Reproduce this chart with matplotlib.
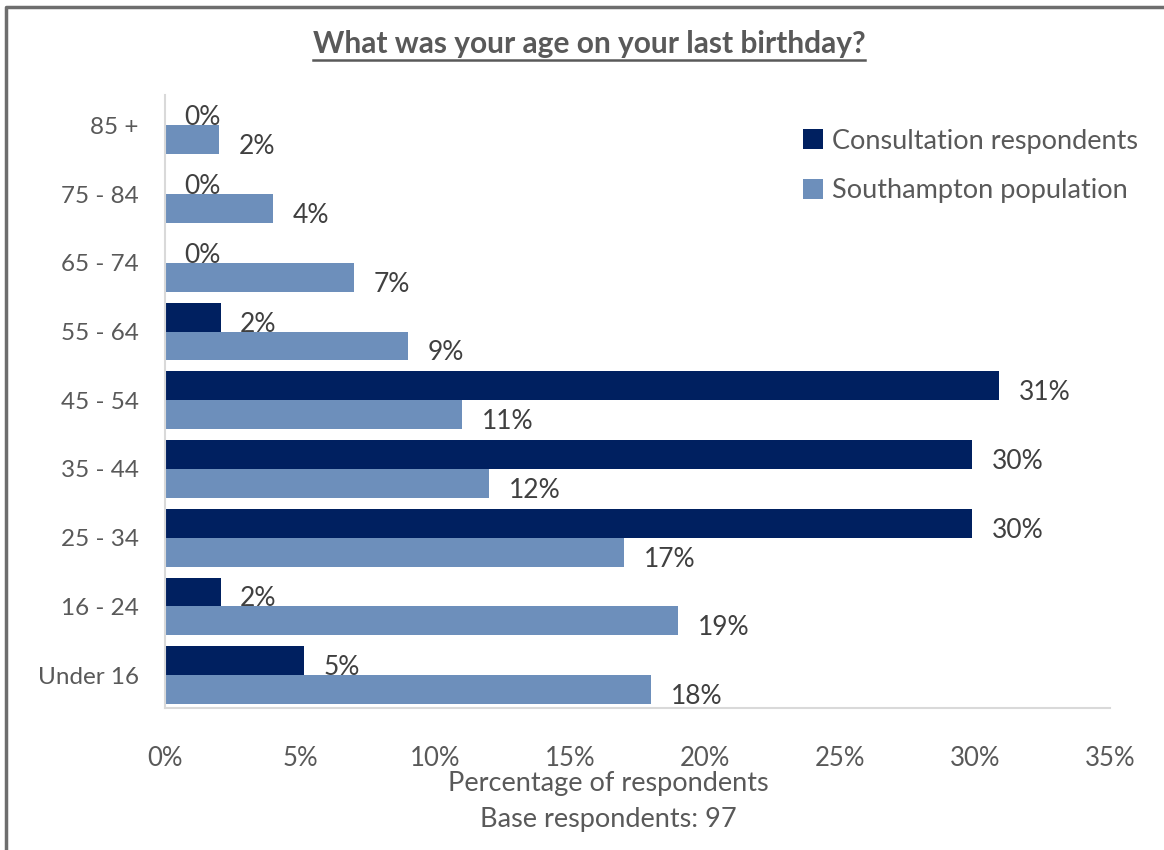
import numpy as np
import matplotlib.pyplot as plt
from matplotlib.lines import Line2D

# 年龄组（从下到上）
age_groups = ["Under 16", "16 - 24", "25 - 34", "35 - 44", "45 - 54",
              "55 - 64", "65 - 74", "75 - 84", "85 +"]
consultation = [5.15, 2.06, 29.9, 29.9, 30.9, 2.06, 0, 0, 0]
population = [18.0, 19.0, 17.0, 12.0, 11.0, 9.0, 7.0, 4.0, 2.0]
x_ticks = [0, 5, 10, 15, 20, 25, 30, 35]

navy = "#002060"
light = "#6d8fbb"
grey = "#595959"

plt.rcParams['font.family'] = ['Lato', 'DejaVu Sans']

fig = plt.figure(figsize=(11.64, 8.5), dpi=100)
ax = fig.add_axes([0.1418, 0.167, 0.8118, 0.721])

y = np.arange(len(age_groups))
h = 0.42
ax.barh(y + h / 2, consultation, height=h, color=navy, label="Consultation respondents")
ax.barh(y - h / 2, population, height=h, color=light, label="Southampton population")

# 数据标签
for yi, v in zip(y, consultation):
    ax.annotate(f"{v:.0f}%", (v, yi + h / 2), xytext=(14, -5), textcoords="offset points",
                va="center", ha="left", fontsize=19, color="#404040")
for yi, v in zip(y, population):
    ax.annotate(f"{v:.0f}%", (v, yi - h / 2), xytext=(14, -5), textcoords="offset points",
                va="center", ha="left", fontsize=19, color="#404040")

ax.set_xlim(0, 35)
ax.set_ylim(-0.48, 8.44)
ax.set_xticks(x_ticks)
ax.set_xticklabels([f"{t}%" for t in x_ticks])
ax.set_yticks(y)
ax.set_yticklabels(age_groups)
ax.tick_params(axis="both", length=0, colors=grey)
ax.tick_params(axis="x", pad=27, labelsize=18.5)
ax.tick_params(axis="y", pad=19, labelsize=17.5)

for s in ["top", "right"]:
    ax.spines[s].set_visible(False)
ax.spines["left"].set_color("#d9d9d9")
ax.spines["bottom"].set_color("#d9d9d9")
ax.spines["left"].set_linewidth(1.5)
ax.spines["bottom"].set_linewidth(1.5)

leg = ax.legend(loc="upper right", bbox_to_anchor=(1.055, 0.985), frameon=False,
                fontsize=19.5, handlelength=0.75, handleheight=0.75, handletextpad=0.3,
                labelspacing=0.9, labelcolor=grey)

fig.text(608 / 1164, 1 - 783 / 850, "Percentage of respondents", ha="center", va="center",
         fontsize=19.5, color=grey)
fig.text(608 / 1164, 1 - 820 / 850, "Base respondents: 97", ha="center", va="center",
         fontsize=19.5, color=grey)

title = fig.text(589 / 1164, 1 - 44 / 850, "What was your age on your last birthday?",
                 ha="center", va="center", fontsize=21.5, fontweight="bold", color=grey)

# 标题下划线
fig.canvas.draw()
bb = title.get_window_extent().transformed(fig.transFigure.inverted())
fig.add_artist(Line2D([bb.x0, bb.x1], [bb.y0 - 0.002, bb.y0 - 0.002], color=grey, lw=1.8))

# 外框
fig.add_artist(Line2D([6 / 1164, 6 / 1164, 1163 / 1164], [0, 1 - 7 / 850, 1 - 7 / 850],
                      color="#6e6e6e", lw=2.5))

fig.savefig("out.png", dpi=100)
